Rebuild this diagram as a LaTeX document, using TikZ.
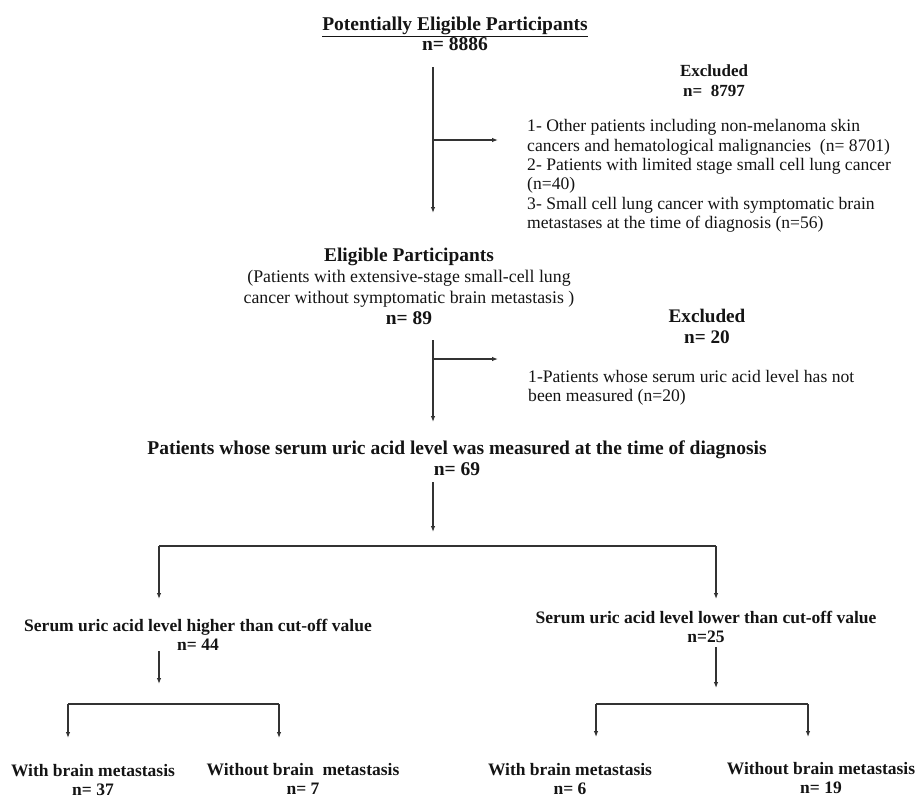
\documentclass[tikz,border=0pt]{standalone}
\usepackage{fontspec}
\setmainfont{Liberation Serif}
\usetikzlibrary{arrows.meta}

\newcommand{\headfont}{\fontsize{19.5}{20.5}\selectfont\bfseries}
\newcommand{\exclfont}{\fontsize{17}{20}\selectfont\bfseries}
\newcommand{\subfont}{\fontsize{17.5}{19}\selectfont\bfseries}
\newcommand{\listfont}{\fontsize{17.6}{19.4}\selectfont}

\begin{document}
\begin{tikzpicture}[x=1pt, y=-1pt,
    txt/.style={inner sep=0pt, align=center, text=black!92},
    lst/.style={inner sep=0pt, align=left, text=black!92, font=\listfont},
    flow/.style={line width=1.1pt, draw=black!80, -{Latex[length=6pt,width=4.5pt]}},
    bar/.style={line width=1.8pt, draw=black!80}]
\useasboundingbox (0,0) rectangle (917,801);

% Potentially eligible participants
\node[txt, font=\headfont] (pot) at (455,34) {\underline{Potentially Eligible Participants}\\n= 8886};

% First exclusion
\node[txt, font=\exclfont] (ex1) at (714,81) {Excluded\\n=\ \ 8797};
\node[lst, anchor=west] (ex1list) at (527,176) {1- Other patients including non-melanoma skin\\
cancers and hematological malignancies\ \ (n= 8701)\\
2- Patients with limited stage small cell lung cancer\\
(n=40)\\
3- Small cell lung cancer with symptomatic brain\\
metastases at the time of diagnosis (n=56)};

% Eligible participants
\node[txt, font=\fontsize{17.8}{21}\selectfont] (elig) at (409,286) {{\fontsize{19.4}{21}\selectfont\bfseries Eligible Participants}\\
(Patients with extensive-stage small-cell lung\\
cancer without symptomatic brain metastasis )\\
{\fontsize{19.4}{21}\selectfont\bfseries n= 89}};

% Second exclusion
\node[txt, font=\fontsize{19.2}{21}\selectfont\bfseries] (ex2) at (707,326) {Excluded\\n= 20};
\node[lst, anchor=west] (ex2list) at (528,388) {1-Patients whose serum uric acid level has not\\
been measured (n=20)};

% Measured uric acid
\node[txt, font=\headfont] (meas) at (457,458) {Patients whose serum uric acid level was measured at the time of diagnosis\\n= 69};

% Split by cut-off value
\node[txt, font=\subfont] (high) at (198,635) {Serum uric acid level higher than cut-off value\\n= 44};
\node[txt, font=\subfont] (low) at (706,627) {Serum uric acid level lower than cut-off value\\n=25};

% Brain metastasis groups
\node[txt, font=\subfont] (hw) at (93,780) {With brain metastasis\\n= 37};
\node[txt, font=\subfont] (hwo) at (303,779) {Without brain\ \ metastasis\\n= 7};
\node[txt, font=\subfont] (lw) at (570,779) {With brain metastasis\\n= 6};
\node[txt, font=\subfont] (lwo) at (821,778) {Without brain metastasis\\n= 19};

% connector ends
\coordinate (a1) at (433,67);
\coordinate (a1b) at (433,140);
\coordinate (a1c) at (498,140);
\coordinate (a1e) at (433,213);
\coordinate (a2) at (433,340);
\coordinate (a2b) at (433,359);
\coordinate (a2c) at (498,359);
\coordinate (a2e) at (433,422);
\coordinate (a3) at (433,482);
\coordinate (a3e) at (433,532);
\coordinate (sl) at (159,546);
\coordinate (sr) at (716,546);
\coordinate (slt) at (159,599);
\coordinate (srt) at (716,599);
\coordinate (hs) at (159,651);
\coordinate (ht) at (159,684);
\coordinate (ls) at (716,647);
\coordinate (lt) at (716,688);
\coordinate (hl) at (68,704);
\coordinate (hr) at (279,704);
\coordinate (ll) at (596,704);
\coordinate (lr) at (808,704);

% main line
\draw[flow] (a1) -- (a1e);
\draw[flow] (a1b) -- (a1c);
\draw[flow] (a2) -- (a2e);
\draw[flow] (a2b) -- (a2c);
\draw[flow] (a3) -- (a3e);

% split
\draw[bar] (sl) -- (sr);
\draw[flow] (sl) -- (slt);
\draw[flow] (sr) -- (srt);
\draw[flow] (hs) -- (ht);
\draw[flow] (ls) -- (lt);

% brackets
\draw[bar] (hl) -- (hr);
\draw[flow] (hl) -- (hl |- 0,738);
\draw[flow] (hr) -- (hr |- 0,738);
\draw[bar] (ll) -- (lr);
\draw[flow] (ll) -- (ll |- 0,737);
\draw[flow] (lr) -- (lr |- 0,737);
\end{tikzpicture}
\end{document}
